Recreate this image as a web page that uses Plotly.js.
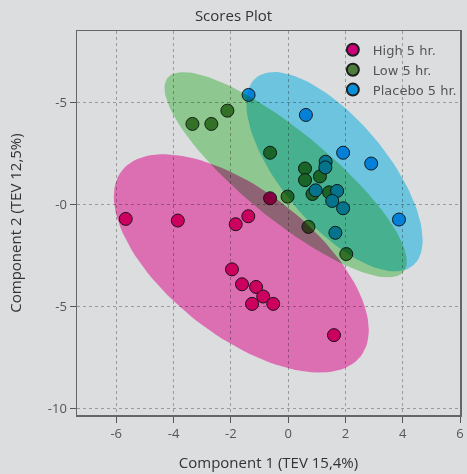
<!DOCTYPE html>
<html>
<head>
<meta charset="utf-8">
<script src="https://cdn.plot.ly/plotly-3.0.1.min.js"></script>
<style>
  html, body { margin: 0; padding: 0; background: #dcdddf; }
  #chart { width: 467px; height: 474px; }
  .js-fill { mix-blend-mode: multiply; }
  #chart .cartesianlayer g[clip-path], #chart .cartesianlayer .plot { clip-path: none !important; }
</style>
</head>
<body>
<div id="chart"></div>
<script>
// ---- data ----
const groupNames = ["High 5 hr.", "Low 5 hr.", "Placebo 5 hr."];

const highX = [-5.67, -3.85, -1.83, -1.39, -0.63, -1.96, -1.61, -1.12, -0.87, -1.26, -0.52, 1.60];
const highY = [-0.70, -0.78, -0.96, -0.57, 0.31, -3.17, -3.90, -4.03, -4.50, -4.86, -4.86, -6.39];

const lowX = [-3.34, -2.68, -2.12, -0.63, 0.59, 0.59, 1.11, -0.02, 0.85, 1.43, 0.71, 2.03];
const lowY = [3.95, 3.95, 4.60, 2.54, 1.77, 1.20, 1.38, 0.39, 0.52, 0.60, -1.09, -2.42];

const placeboX = [-1.38, 0.62, 1.92, 2.90, 1.31, 1.30, 0.96, 1.71, 1.54, 1.92, 1.65, 3.87];
const placeboY = [5.37, 4.39, 2.54, 2.01, 2.10, 1.82, 0.70, 0.67, 0.18, -0.18, -1.38, -0.73];

// confidence ellipses: centre and two conjugate half-axis vectors (data units)
const ellipseCX = [-1.635, -0.087, 1.617];
const ellipseCY = [-2.878, 1.463, 1.610];
const ellipseUX = [4.170, 4.118, 2.741];
const ellipseUY = [-4.541, -4.746, -4.595];
const ellipseVX = [-1.555, -0.963, -1.402];
const ellipseVY = [-2.815, -1.649, -1.644];

const xTickVals = [-6, -4, -2, 0, 2, 4, 6];
const xTickText = ["-6", "-4", "-2", "0", "2", "4", "6"];
const yTickVals = [5, 0, -5, -10];
const yTickText = ["-5", "-0", "-5", "-10"];

// ---- styles ----
const markerColors = ["#cc0077", "#4e7d3b", "#0a90d8"];
const ellipseColors = ["#ff7fcc", "#a5e6a4", "#7de2ff"];
const bg = "#dcdddf";
const fontFam = "'Open Sans', 'Noto Sans', sans-serif";

function ellipsePath(i) {
  const xs = [], ys = [];
  const n = 120;
  for (let k = 0; k <= n; k++) {
    const t = 2 * Math.PI * k / n;
    xs.push(ellipseCX[i] + ellipseUX[i] * Math.cos(t) + ellipseVX[i] * Math.sin(t));
    ys.push(ellipseCY[i] + ellipseUY[i] * Math.cos(t) + ellipseVY[i] * Math.sin(t));
  }
  return {xs, ys};
}

const seriesX = [highX, lowX, placeboX];
const seriesY = [highY, lowY, placeboY];

const traces = [];
for (let i = 0; i < 3; i++) {
  traces.push({
    type: "scatter", mode: "markers", name: groupNames[i],
    x: seriesX[i], y: seriesY[i],
    marker: {size: 13, color: markerColors[i], line: {color: "#1e1e1e", width: 1}},
    hoverinfo: "x+y"
  });
}
for (let i = 0; i < 3; i++) {
  const p = ellipsePath(i);
  traces.push({
    type: "scatter", mode: "lines", x: p.xs, y: p.ys,
    fill: "toself", fillcolor: ellipseColors[i],
    line: {width: 0, color: ellipseColors[i]},
    showlegend: false, hoverinfo: "skip"
  });
}

const layout = {
  width: 467, height: 474,
  paper_bgcolor: bg, plot_bgcolor: bg,
  margin: {l: 77, r: 5, t: 31, b: 59},
  font: {family: fontFam, color: "#444", size: 13},
  title: {text: "Scores Plot", font: {family: fontFam, size: 15, color: "#333"},
          x: 0.5, xanchor: "center", y: 0.967, yanchor: "middle"},
  showlegend: true,
  legend: {x: 0.668, y: 0.99, xanchor: "left", yanchor: "top",
           bgcolor: "rgba(0,0,0,0)", font: {family: "'DejaVu Sans', sans-serif", size: 13, color: "#555"},
           tracegroupgap: 0, itemsizing: "constant"},
  xaxis: {
    range: [-7.37, 6.0], tickvals: xTickVals, ticktext: xTickText, automargin: false,
    showgrid: true, gridcolor: "#9a9a9a", griddash: "dot", gridwidth: 1,
    zeroline: false, showline: true, linecolor: "#666", linewidth: 1.5, mirror: true,
    ticks: "outside", ticklen: 6, tickcolor: "#555",
    tickfont: {family: fontFam, size: 13, color: "#555"},
    title: {text: "Component 1 (TEV 15,4%)", font: {family: fontFam, size: 15, color: "#333"}, standoff: 16}
  },
  yaxis: {
    range: [-10.3, 8.5], tickvals: yTickVals, ticktext: yTickText, automargin: false,
    showgrid: true, gridcolor: "#9a9a9a", griddash: "dot", gridwidth: 1,
    zeroline: false, showline: true, linecolor: "#666", linewidth: 1.5, mirror: true,
    ticks: "outside", ticklen: 6, tickcolor: "#555",
    tickfont: {family: fontFam, size: 13, color: "#555"},
    title: {text: "Component 2 (TEV 12,5%)", font: {family: fontFam, size: 15, color: "#333"}, standoff: 22}
  }
};

Plotly.newPlot("chart", traces, layout, {displayModeBar: false, staticPlot: true});
</script>
</body>
</html>
